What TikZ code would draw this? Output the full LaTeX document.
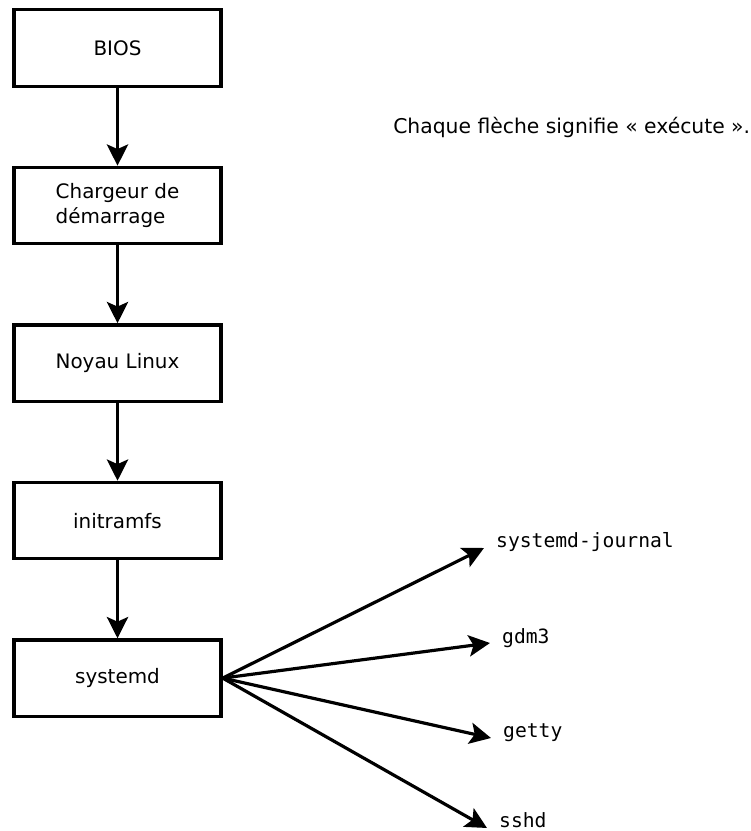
\documentclass[tikz,border=0pt]{standalone}
\usepackage{fontspec}
\setmainfont{DejaVu Sans}
\setmonofont{DejaVu Sans Mono}
\usetikzlibrary{arrows.meta,positioning}

\tikzset{
    stage/.style={draw,line width=2.5pt,minimum width=5.48cm,minimum height=2.02cm,align=left,
        font=\fontsize{15}{18.8}\selectfont},
    prog/.style={anchor=base west,inner xsep=9pt,inner ysep=0pt,
        font=\fontsize{14.8}{18.8}\selectfont\ttfamily},
    runs/.style={line width=2.4pt,-{Stealth[length=16pt,width=16pt,inset=3.5pt]}}
}

\begin{document}
\begin{tikzpicture}
        \useasboundingbox (0,0) rectangle (19.870,-21.987);
        %% boot chain
        \node[stage] (bios) at (3.109,-1.270) {BIOS};
        \node[stage,below=2.06cm of bios] (loader) {Chargeur de\\démarrage};
        \node[stage,below=2.06cm of loader] (kernel) {Noyau Linux};
        \node[stage,below=2.06cm of kernel] (initrd) {initramfs};
        \node[stage,below=2.06cm of initrd] (systemd) {systemd};
        \draw[runs] (bios) -- (loader);
        \draw[runs] (loader) -- (kernel);
        \draw[runs] (kernel) -- (initrd);
        \draw[runs] (initrd) -- (systemd);
        %% caption
        \node[anchor=base west,inner sep=0pt,font=\fontsize{15.3}{18.8}\selectfont] (note) at (10.398,-3.545)
            {Chaque flèche signifie « exécute ».};
        %% services
        \node[prog] (journal) at (12.806,-14.499) {systemd-journal};
        \node[prog] (gdm) at (12.964,-17.013) {gdm3};
        \node[prog] (getty) at (12.991,-19.526) {getty};
        \node[prog] (sshd) at (12.885,-21.907) {sshd};
        \foreach \srv in {journal,gdm,getty,sshd}
            \draw[runs] (systemd.east) -- (\srv.base west);
    \end{tikzpicture}
\end{document}
